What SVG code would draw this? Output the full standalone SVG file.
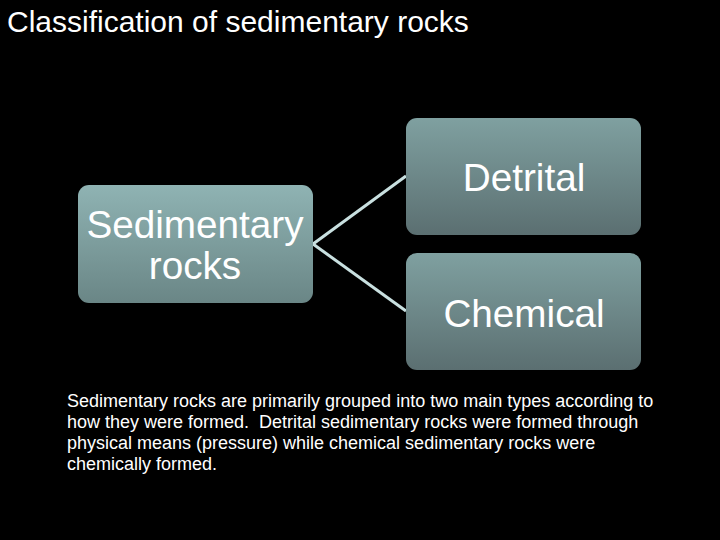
<svg xmlns="http://www.w3.org/2000/svg" width="720" height="540" viewBox="0 0 720 540">
<defs>
<linearGradient id="gL" x1="0" y1="0" x2="0" y2="1"><stop offset="0" stop-color="#8fb3b3"/><stop offset="1" stop-color="#6a8686"/></linearGradient>
<linearGradient id="gR" x1="0" y1="0" x2="0" y2="1"><stop offset="0" stop-color="#7fa0a0"/><stop offset="1" stop-color="#5b6f71"/></linearGradient>
<style>
text{font-family:"Liberation Sans",Arial,sans-serif;fill:#fff}
.node{font-size:38.7px;text-anchor:middle}
.body{font-size:18px}
.conn{stroke:#c9e0e0;stroke-width:3;fill:none}
</style>
</defs>
<rect width="720" height="540" fill="#000"/>
<text x="7" y="32" font-size="30">Classification of sedimentary rocks</text>
<g id="connectors">
<path class="conn" d="M313,244 L406,176"/>
<path class="conn" d="M313,244 L406,311"/>
</g>
<g id="sedimentary">
<rect x="78" y="185" width="235" height="118" rx="11" fill="url(#gL)"/>
<text class="node" x="195" y="238">Sedimentary</text>
<text class="node" x="195" y="279">rocks</text>
</g>
<g id="detrital">
<rect x="406" y="118" width="235" height="117" rx="11" fill="url(#gR)"/>
<text class="node" x="524" y="191">Detrital</text>
</g>
<g id="chemical">
<rect x="406" y="253" width="235" height="117" rx="11" fill="url(#gR)"/>
<text class="node" x="524" y="327">Chemical</text>
</g>
<g>
<text class="body" x="67" y="407">Sedimentary rocks are primarily grouped into two main types according to</text>
<text class="body" x="67" y="428">how they were formed.&#160; Detrital sedimentary rocks were formed through</text>
<text class="body" x="67" y="449">physical means (pressure) while chemical sedimentary rocks were</text>
<text class="body" x="67" y="470">chemically formed.</text>
</g>
</svg>
